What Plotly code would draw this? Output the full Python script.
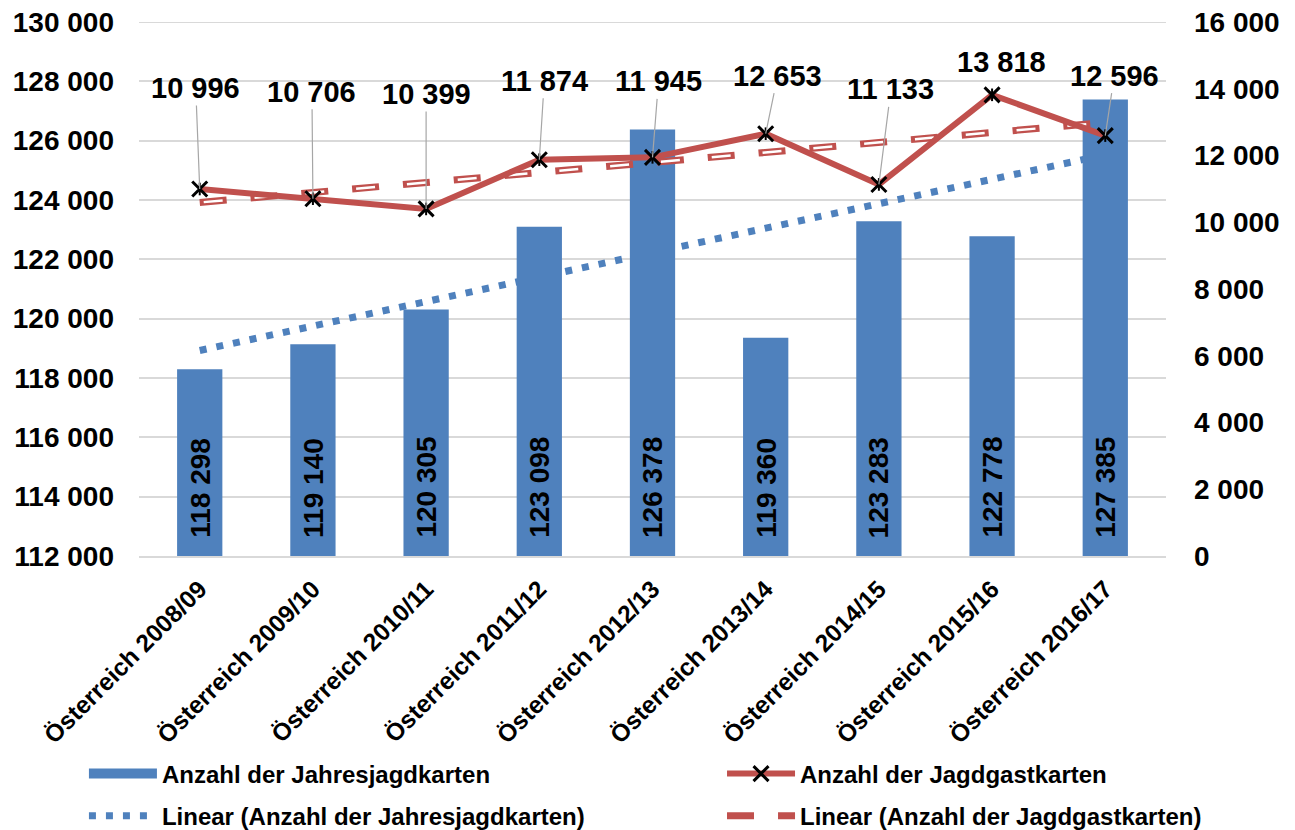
import numpy as np
import plotly.graph_objects as go

categories = ["Österreich 2008/09", "Österreich 2009/10", "Österreich 2010/11",
              "Österreich 2011/12", "Österreich 2012/13", "Österreich 2013/14",
              "Österreich 2014/15", "Österreich 2015/16", "Österreich 2016/17"]
jahresjagdkarten = [118298, 119140, 120305, 123098, 126378, 119360, 123283, 122778, 127385]
jagdgastkarten = [10996, 10706, 10399, 11874, 11945, 12653, 11133, 13818, 12596]

# label offsets (pixels) for the Jagdgastkarten data labels
label_dx = [-4, -1, 0, 5, 6, 12, 12, 9, 9]
label_dy = [-101, -107, -115, -79, -76, -58, -95, -33, -60]

BLUE = "#4F81BD"
RED = "#C0504D"
GRID = "#D9D9D9"
FONT = "Liberation Sans, Arial, sans-serif"

def fmt(v):
    return f"{v:,}".replace(",", " ")

# linear trendlines (least squares, as in the original chart)
xi = np.arange(1, len(categories) + 1)
tj = np.polyval(np.polyfit(xi, jahresjagdkarten, 1), xi)
tg = np.polyval(np.polyfit(xi, jagdgastkarten, 1), xi)

fig = go.Figure()

# blue dotted trend (primary axis, under the bars)
fig.add_trace(go.Scatter(x=categories, y=tj, mode="lines", yaxis="y",
                         line=dict(color=BLUE, width=7, dash="7px,10px"),
                         name="Linear (Anzahl der Jahresjagdkarten)",
                         legend="legend", legendgroup="a2", legendrank=2))

# bars
fig.add_trace(go.Bar(x=categories, y=jahresjagdkarten, yaxis="y2",
                     marker=dict(color=BLUE, line=dict(width=0)),
                     width=0.4, showlegend=False, name="Anzahl der Jahresjagdkarten"))
# legend proxy for bars
fig.add_trace(go.Scatter(x=[None], y=[None], mode="lines", yaxis="y2",
                         line=dict(color=BLUE, width=12),
                         name="Anzahl der Jahresjagdkarten",
                         legend="legend", legendgroup="a1", legendrank=1))

# red trend (double line)
fig.add_trace(go.Scatter(x=categories, y=tg, mode="lines", yaxis="y3",
                         line=dict(color=RED, width=7, dash="27px,24px"),
                         name="Linear (Anzahl der Jagdgastkarten)",
                         legend="legend2", legendgroup="b2", legendrank=2))
fig.add_trace(go.Scatter(x=categories, y=tg, mode="lines", yaxis="y3",
                         line=dict(color="white", width=2.5, dash="0px,4px,19px,28px"),
                         showlegend=False, hoverinfo="skip"))

# red line with markers
fig.add_trace(go.Scatter(x=categories, y=jagdgastkarten, mode="lines+markers", yaxis="y3",
                         line=dict(color=RED, width=6),
                         marker=dict(symbol="x-thin", size=15, color="black",
                                     line=dict(color="black", width=3)),
                         name="Anzahl der Jagdgastkarten",
                         legend="legend2", legendgroup="b1", legendrank=1))
fig.add_trace(go.Scatter(x=categories, y=jagdgastkarten, mode="markers", yaxis="y3",
                         marker=dict(symbol="line-ns", size=9, color="black",
                                     line=dict(color="black", width=2)),
                         showlegend=False, hoverinfo="skip"))

annotations = []
# bar labels
for c, v in zip(categories, jahresjagdkarten):
    annotations.append(dict(x=c, y=112000, xref="x", yref="y", text=fmt(v),
                            textangle=-90, showarrow=False, yanchor="bottom",
                            xanchor="center", yshift=16,
                            font=dict(family=FONT, size=28, color="black", weight="bold")))
# line labels
for c, v, dx, dy in zip(categories, jagdgastkarten, label_dx, label_dy):
    if abs(dy) > 45:
        annotations.append(dict(x=c, y=v, xref="x", yref="y3", text=fmt(v),
                                showarrow=True, arrowhead=0, arrowwidth=1.2,
                                arrowcolor="#A6A6A6", ax=dx, ay=dy, standoff=0,
                                font=dict(family=FONT, size=29, color="black", weight="bold")))
    else:
        annotations.append(dict(x=c, y=v, xref="x", yref="y3", text=fmt(v),
                                showarrow=False, xshift=dx, yshift=-dy,
                                font=dict(family=FONT, size=29, color="black", weight="bold")))

legend_font = dict(family=FONT, size=24, weight="bold", color="black")
# page body adds an 8px offset; figure is sized/positioned to compensate
fig.update_layout(
    width=1287, height=822,
    margin=dict(l=131, r=129, t=14, b=274, autoexpand=False),
    paper_bgcolor="white", plot_bgcolor="white",
    separators=", ",
    font=dict(family=FONT, color="black", weight="bold"),
    bargap=0.6,
    xaxis=dict(type="category", categoryorder="array", categoryarray=categories,
               tickangle=-45, tickfont=dict(family=FONT, size=24.5, weight="bold", color="black"),
               showline=True, linecolor=GRID, linewidth=2, showgrid=False,
               ticks="", ticklabelstandoff=7),
    yaxis=dict(range=[112000, 130000], dtick=2000, tickformat=",",
               tickfont=dict(family=FONT, size=28, weight="bold", color="black"),
               showgrid=True, gridcolor=GRID, gridwidth=2, zeroline=False,
               showline=False, ticks="", ticklabelstandoff=24,
               ticklabeloverflow="allow"),
    yaxis2=dict(range=[112000, 130000], overlaying="y", visible=False),
    yaxis3=dict(range=[0, 16000], dtick=2000, tickformat=",", overlaying="y", side="right",
                tickfont=dict(family=FONT, size=28, weight="bold", color="black"),
                showgrid=False, zeroline=False, showline=False, ticks="",
                ticklabelstandoff=27, ticklabeloverflow="allow"),
    legend=dict(xref="container", yref="container", x=0.059, xanchor="left",
                y=0.0955, yanchor="top", orientation="v", font=legend_font,
                itemwidth=68, tracegroupgap=8, bgcolor="rgba(0,0,0,0)"),
    legend2=dict(xref="container", yref="container", x=0.5548, xanchor="left",
                 y=0.0955, yanchor="top", orientation="v", font=legend_font,
                 itemwidth=68, tracegroupgap=8, bgcolor="rgba(0,0,0,0)"),
    annotations=annotations,
    shapes=[dict(type="line", xref="paper", yref="y", x0=0, x1=1, y0=130000, y1=130000,
                 line=dict(color=GRID, width=2), layer="below")],
    showlegend=True,
)

fig.write_html("out.html")
